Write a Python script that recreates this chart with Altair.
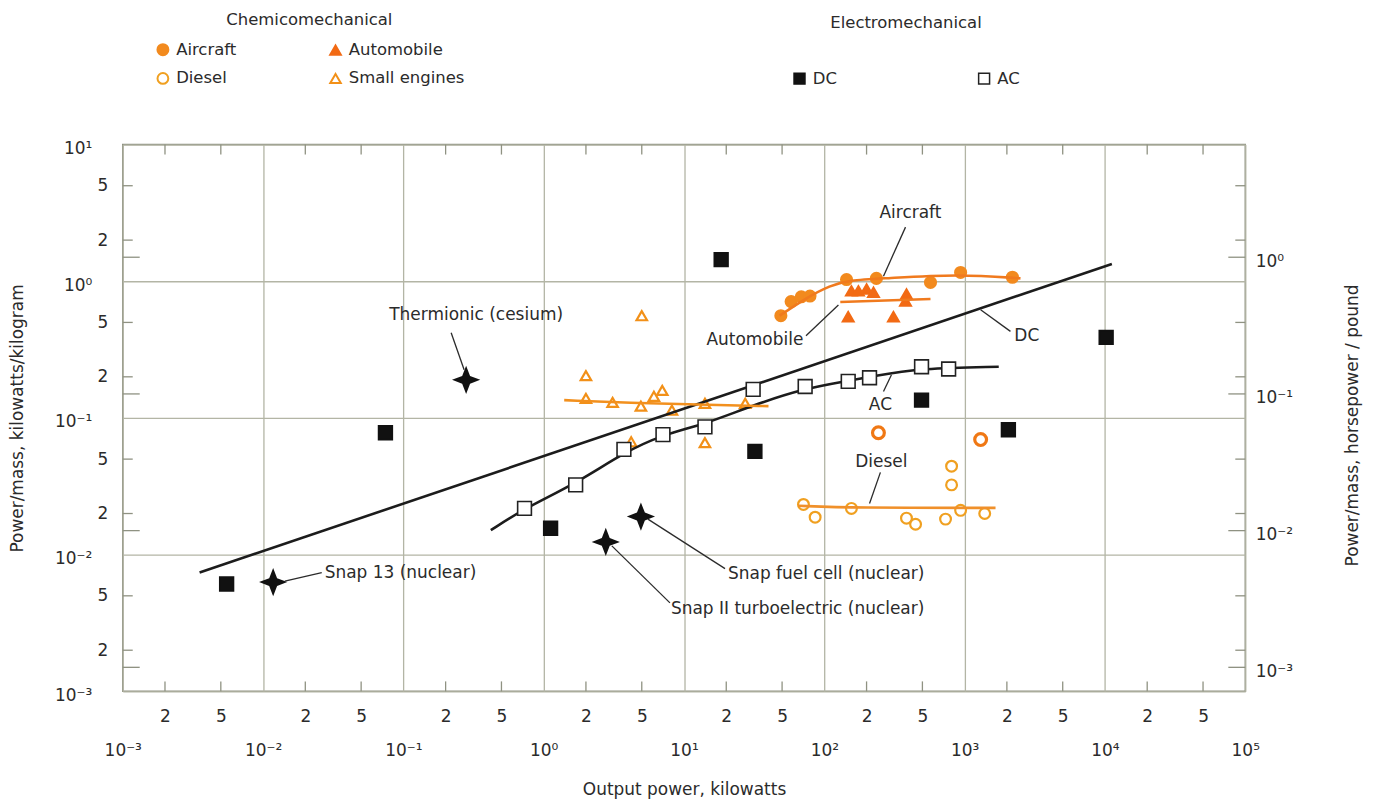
import altair as alt
import pandas as pd

FONT = "DejaVu Sans"
INK = "#2b2b2b"
GRID = "#b3b5a5"
FRAME = "#8f9282"
HP_PER_KW = 0.667  # horsepower/pound per kilowatt/kilogram as drawn on the right axis
FS = 17            # text size
LFS = 16.5         # legend text size

# ---------------- tick positions ----------------
x_decades = [0.001, 0.01, 0.1, 1, 10, 100, 1000, 10000, 100000]
x_minor = [0.002, 0.005, 0.02, 0.05, 0.2, 0.5, 2, 5, 20, 50, 200, 500,
           2000, 5000, 20000, 50000]
y_decades = [0.001, 0.01, 0.1, 1, 10]
y_minor = [0.002, 0.005, 0.02, 0.05, 0.2, 0.5, 2, 5]
hp_decades = [0.001, 0.01, 0.1, 1]

# ---------------- chemicomechanical points ----------------
aircraft_x = [49, 58, 68.5, 79, 144, 235, 571, 936, 2190]
aircraft_y = [0.56, 0.71, 0.77, 0.78, 1.03, 1.05, 0.98, 1.16, 1.07]
automobile_x = [156, 175, 200, 224, 385, 379, 148, 311]
automobile_y = [0.85, 0.85, 0.876, 0.83, 0.806, 0.718, 0.55, 0.55]
diesel_x = [71, 86, 156, 385, 447, 731, 807, 807, 936, 1390]
diesel_y = [0.0233, 0.0188, 0.0218, 0.0185, 0.0167, 0.0182, 0.0444,
            0.0324, 0.0211, 0.020]
diesel_heavy_x = [243, 1300]
diesel_heavy_y = [0.078, 0.0695]
small_x = [2.0, 2.0, 3.1, 4.93, 6.1, 7.0, 8.2, 14.1, 27.3, 4.2, 14.1, 5.0]
small_y = [0.204, 0.139, 0.130, 0.122, 0.144, 0.159, 0.114, 0.128, 0.128,
           0.067, 0.066, 0.56]

# ---------------- electromechanical points ----------------
dc_x = [0.0055, 0.0745, 1.12, 18.4, 32, 493, 2050, 10200]
dc_y = [0.0061, 0.078, 0.0156, 1.44, 0.057, 0.135, 0.082, 0.389]
ac_x = [0.73, 1.69, 3.73, 7.08, 14.1, 31.1, 73, 148, 210, 493, 769]
ac_y = [0.0218, 0.0324, 0.0589, 0.0755, 0.0861, 0.162, 0.17, 0.185, 0.197,
        0.237, 0.228]

# ---------------- trend curves ----------------
dc_line_x = [0.00353, 11200]
dc_line_y = [0.0074, 1.34]
ac_curve_x = [0.42, 0.73, 1.69, 3.73, 7.08, 14.1, 31, 73, 148, 210, 493, 1750]
ac_curve_y = [0.0151, 0.0218, 0.0330, 0.0560, 0.0755, 0.090, 0.124, 0.165,
              0.187, 0.200, 0.232, 0.237]
aircraft_curve_x = [48, 75, 110, 150, 270, 900, 2500]
aircraft_curve_y = [0.56, 0.76, 0.93, 1.02, 1.05, 1.13, 1.05]
automobile_line_x = [130, 571]
automobile_line_y = [0.706, 0.742]
small_line_x = [1.4, 5, 15, 40]
small_line_y = [0.135, 0.128, 0.125, 0.122]
diesel_line_x = [65, 160, 1660]
diesel_line_y = [0.0228, 0.0220, 0.0220]

# ---------------- nuclear / thermionic systems ----------------
star_names = ["Thermionic (cesium)", "Snap 13 (nuclear)",
              "Snap fuel cell (nuclear)", "Snap II turboelectric (nuclear)"]
star_x = [0.28, 0.0118, 4.93, 2.77]
star_y = [0.19, 0.0063, 0.019, 0.0124]

# ---------------- annotations ----------------
center_labels = ["Thermionic (cesium)", "Aircraft", "Automobile", "AC", "Diesel"]
center_lx = [0.33, 411, 32, 251, 255]
center_ly = [0.569, 3.14, 0.37, 0.124, 0.048]
left_labels = ["Snap 13 (nuclear)", "Snap fuel cell (nuclear)",
               "Snap II turboelectric (nuclear)", "DC"]
left_lx = [0.0275, 20.6, 8.07, 2260]
left_ly = [0.0074, 0.00718, 0.00402, 0.395]
leader_x1 = [0.219, 0.0262, 19.6, 7.94, 379, 74, 2120, 264, 251]
leader_y1 = [0.42, 0.0074, 0.0079, 0.00444, 2.49, 0.40, 0.43, 0.156, 0.040]
leader_x2 = [0.271, 0.0143, 5.53, 3.06, 264, 126, 1300, 301, 210]
leader_y2 = [0.225, 0.0064, 0.0182, 0.0116, 1.09, 0.67, 0.62, 0.207, 0.0237]


def frame(name, xs, ys):
    return pd.DataFrame({"series": name, "x": xs, "y": ys})


chem_df = pd.concat([
    frame("Aircraft", aircraft_x, aircraft_y),
    frame("Automobile", automobile_x, automobile_y),
    frame("Diesel", diesel_x, diesel_y),
    frame("Small engines", small_x, small_y),
], ignore_index=True)
heavy_df = frame("Diesel", diesel_heavy_x, diesel_heavy_y)
elec_df = pd.concat([frame("DC", dc_x, dc_y), frame("AC", ac_x, ac_y)],
                    ignore_index=True)
curve_df = pd.concat([
    frame("DC", dc_line_x, dc_line_y),
    frame("AC", ac_curve_x, ac_curve_y),
    frame("Aircraft", aircraft_curve_x, aircraft_curve_y),
    frame("Automobile", automobile_line_x, automobile_line_y),
    frame("Small engines", small_line_x, small_line_y),
    frame("Diesel", diesel_line_x, diesel_line_y),
], ignore_index=True)
star_df = pd.DataFrame({"name": star_names, "x": star_x, "y": star_y})
center_df = pd.DataFrame({"t": center_labels, "x": center_lx, "y": center_ly})
left_df = pd.DataFrame({"t": left_labels, "x": left_lx, "y": left_ly})
leader_df = pd.DataFrame({"x": leader_x1, "y": leader_y1,
                          "x2": leader_x2, "y2": leader_y2})
xminor_df = pd.DataFrame({"x": x_minor})
yminor_df = pd.DataFrame({"y": y_minor})
hp_tick_df = pd.DataFrame({"y": [v / HP_PER_KW for v in hp_decades]})

W, H = 1125, 548
xs = alt.Scale(type="log", domain=[1e-3, 1e5], nice=False)
ys = alt.Scale(type="log", domain=[1e-3, 10], nice=False)
X = alt.X("x:Q", scale=xs, axis=None)
Y = alt.Y("y:Q", scale=ys, axis=None)

SUP = "['\u207b\u00b3','\u207b\u00b2','\u207b\u00b9','\u2070','\u00b9','\u00b2','\u00b3','\u2074','\u2075']"
LOGV = "(log(datum.value)/LN10)"
DEC = f"abs({LOGV} - round({LOGV})) < 0.01"
MANT = f"round(datum.value / pow(10, floor({LOGV} + 0.001)))"
dec_label = f"{DEC} ? '10' + {SUP}[round({LOGV}) + 3] : '' + {MANT}"
grid_op = {"condition": {"test": DEC, "value": 1}, "value": 0}

common_axis = dict(labelFont=FONT, labelColor=INK, labelFontSize=FS,
                   titleFont=FONT, titleColor=INK, titleFontSize=FS,
                   titleFontWeight="normal", ticks=False, tickSize=0,
                   domain=False, labelOverlap=False, labelFlush=False)

x_axis = alt.Axis(values=x_decades + x_minor, labelExpr=dec_label, grid=True,
                  gridOpacity=grid_op, gridColor=GRID, gridWidth=1.3,
                  labelPadding={"condition": {"test": DEC, "value": 51}, "value": 17},
                  orient="bottom",
                  title="Output power, kilowatts", titleX=W / 2, titleY=98,
                  titleBaseline="middle", **common_axis)
y_axis = alt.Axis(values=y_decades + y_minor, labelExpr=dec_label, grid=True,
                  gridOpacity=grid_op, gridColor=GRID, gridWidth=1.3,
                  labelPadding={"condition": {"test": DEC, "value": 31}, "value": 15},
                  labelOffset={"condition": {"test": DEC, "value": 4}, "value": 0},
                  orient="left",
                  title="Power/mass, kilowatts/kilogram", titleX=-105,
                  titleY=H / 2, titleAngle=270, titleBaseline="middle",
                  titleAlign="center", **common_axis)

# ---------------- inward minor ticks ----------------
tick_style = dict(color=FRAME, strokeWidth=1.3)
ticks_bottom = alt.Chart(xminor_df).mark_rule(**tick_style).encode(
    x=X, y=alt.value(H), y2=alt.value(H - 10))
ticks_top = alt.Chart(xminor_df).mark_rule(**tick_style).encode(
    x=X, y=alt.value(0), y2=alt.value(10))
ticks_left = alt.Chart(yminor_df).mark_rule(**tick_style).encode(
    y=Y, x=alt.value(0), x2=alt.value(10))
ticks_right = alt.Chart(yminor_df).mark_rule(**tick_style).encode(
    y=Y, x=alt.value(W), x2=alt.value(W - 10))
hp_left = alt.Chart(hp_tick_df).mark_rule(**tick_style).encode(
    y=Y, x=alt.value(0), x2=alt.value(17))
hp_right = alt.Chart(hp_tick_df).mark_rule(**tick_style).encode(
    y=Y, x=alt.value(W), x2=alt.value(W - 17))

# ---------------- curves ----------------
curve_domain = ["DC", "AC", "Aircraft", "Automobile", "Small engines", "Diesel"]
curve_range = ["#1c1c1c", "#1c1c1c", "#f07a1e", "#f07a1e", "#f2901e", "#f0902a"]
curves = alt.Chart(curve_df).mark_line(strokeWidth=2.6, interpolate="basis").encode(
    x=X, y=Y,
    color=alt.Color("series:N", scale=alt.Scale(domain=curve_domain, range=curve_range),
                    legend=None),
    detail="series:N")

# ---------------- chemicomechanical points ----------------
# order gives column-major legend: Aircraft / Diesel | Automobile / Small engines
chem_domain = ["Aircraft", "Diesel", "Automobile", "Small engines"]
chem_legend = alt.Legend(title="Chemicomechanical", orient="none", legendX=32,
                         legendY=-133, columns=2, columnPadding=89, rowPadding=9,
                         titleAnchor="middle", titlePadding=13, titleFont=FONT,
                         titleFontSize=LFS, titleFontWeight="normal", titleColor=INK,
                         labelFont=FONT, labelFontSize=LFS, labelColor=INK,
                         symbolStrokeWidth=2, labelOffset=5, padding=0)
chem = alt.Chart(chem_df).mark_point(strokeWidth=2.2, opacity=1).encode(
    x=alt.X("x:Q", scale=xs, axis=x_axis),
    y=alt.Y("y:Q", scale=ys, axis=y_axis),
    shape=alt.Shape("series:N", scale=alt.Scale(
        domain=chem_domain, range=["circle", "circle", "triangle-up", "triangle-up"]),
        legend=chem_legend),
    fill=alt.Fill("series:N", scale=alt.Scale(
        domain=chem_domain, range=["#f28a1e", "#ffffff", "#f26a14", "#ffffff"]),
        legend=chem_legend),
    stroke=alt.Stroke("series:N", scale=alt.Scale(
        domain=chem_domain, range=["#f28a1e", "#f0a020", "#f26a14", "#f29018"]),
        legend=chem_legend),
    size=alt.Size("series:N", scale=alt.Scale(
        domain=chem_domain, range=[120, 110, 230, 210]),
        legend=chem_legend),
)
diesel_heavy = alt.Chart(heavy_df).mark_point(
    shape="circle", size=140, strokeWidth=3.2, color="#f07814", filled=False,
    opacity=1).encode(x=X, y=Y)

# ---------------- electromechanical points ----------------
elec_domain = ["DC", "AC"]
elec_legend = alt.Legend(title="Electromechanical", orient="none", legendX=670,
                         legendY=-130, columns=2, columnPadding=138,
                         titleAnchor="middle", titlePadding=39, titleFont=FONT,
                         titleFontSize=LFS, titleFontWeight="normal", titleColor=INK,
                         labelFont=FONT, labelFontSize=LFS, labelColor=INK,
                         symbolSize=120, symbolStrokeWidth=1.5, labelOffset=5, padding=0)
elec = alt.Chart(elec_df).mark_point(size=190, strokeWidth=1.6, opacity=1).encode(
    x=X, y=Y,
    shape=alt.Shape("series:N", scale=alt.Scale(domain=elec_domain, range=["square", "square"]),
                    legend=elec_legend),
    fill=alt.Fill("series:N", scale=alt.Scale(domain=elec_domain, range=["#111111", "#ffffff"]),
                  legend=elec_legend),
    stroke=alt.Stroke("series:N", scale=alt.Scale(domain=elec_domain, range=["#111111", "#222222"]),
                      legend=elec_legend),
)

# ---------------- stars ----------------
STAR = "M0,-1L0.28,-0.28L1,0L0.28,0.28L0,1L-0.28,0.28L-1,0L-0.28,-0.28Z"
stars = alt.Chart(star_df).mark_point(shape=STAR, size=800, filled=True,
                                      color="#111111", opacity=1).encode(x=X, y=Y)

# ---------------- annotations ----------------
leaders = alt.Chart(leader_df).mark_rule(color=INK, strokeWidth=1.3).encode(
    x=X, y=Y, x2="x2:Q", y2="y2:Q")
text_c = alt.Chart(center_df).mark_text(align="center", baseline="middle", font=FONT,
                                        fontSize=FS, color=INK).encode(x=X, y=Y, text="t:N")
text_l = alt.Chart(left_df).mark_text(align="left", baseline="middle", font=FONT,
                                      fontSize=FS, color=INK).encode(x=X, y=Y, text="t:N")

# ---------------- right axis (horsepower per pound) ----------------
right = alt.Chart(pd.DataFrame({"hp": hp_decades})).mark_point(opacity=0).encode(
    y=alt.Y("hp:Q",
            scale=alt.Scale(type="log", domain=[1e-3 * HP_PER_KW, 10 * HP_PER_KW], nice=False),
            axis=alt.Axis(orient="right", values=hp_decades, labelExpr=dec_label, grid=False,
                          labelPadding=10, labelOffset=4, title="Power/mass, horsepower / pound",
                          titleX=107, titleY=281, titleAngle=270, titleBaseline="middle",
                          titleAlign="center", **common_axis)))

# every layer carries the same fixed x/y domains, so independent scales map identically
chart = alt.layer(
    chem, ticks_bottom, ticks_top, ticks_left, ticks_right, hp_left, hp_right,
    curves, diesel_heavy, elec, stars, leaders, text_c, text_l, right,
).resolve_scale(
    x="independent", y="independent", shape="independent", fill="independent",
    stroke="independent", size="independent",
).properties(
    width=W, height=H,
    autosize=alt.AutoSizeParams(type="none"),
    padding={"left": 115, "top": 136, "right": 125, "bottom": 110},
).configure_view(stroke=FRAME, strokeWidth=1.5)

chart.save("out.html", embed_options={"renderer": "svg", "actions": False})
